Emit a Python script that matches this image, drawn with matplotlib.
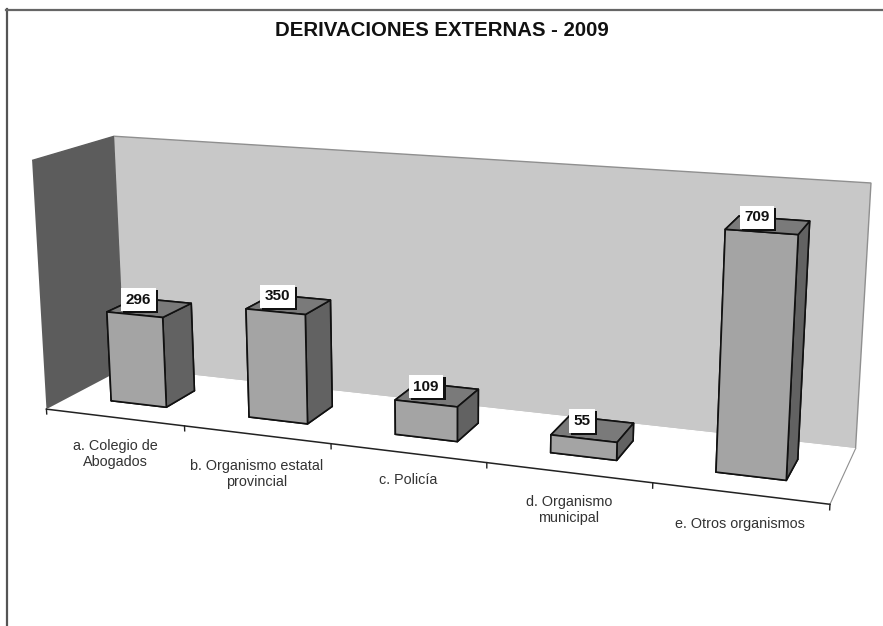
import matplotlib
matplotlib.use('Agg')
import numpy as np
import matplotlib.pyplot as plt
import matplotlib.patheffects as pe
from mpl_toolkits.mplot3d import proj3d

plt.rcParams['font.family'] = ['Liberation Sans', 'DejaVu Sans']

title = 'DERIVACIONES EXTERNAS - 2009'
categories = ['a. Colegio de\nAbogados', 'b. Organismo estatal\nprovincial', 'c. Policía',
              'd. Organismo\nmunicipal', 'e. Otros organismos']
values = [296, 350, 109, 55, 709]
z_max = 800

W, H = 883, 626

# category labels sit a bit irregular in the original, so place them in pixels
label_x = [115, 257, 408, 569, 740]
label_y = [454, 474, 480, 510, 524]

# bar footprint inside each category cell
bar_gap, bar_w, bar_y, bar_d = 0.3001, 0.4067, 0.3014, 0.3851

fig = plt.figure(figsize=(W / 100, H / 100), dpi=100, facecolor='white')

# 2d limits of a 3d axes are -0.095..0.09, so side = scale * 0.185
side = 848.87
ax = fig.add_axes([0.82 / W, -112.0 / H, side / W, side / H], projection='3d')
ax.patch.set_alpha(0)
ax.view_init(elev=14.367, azim=-69.513, roll=0.111)
ax.set_proj_type('persp', focal_length=0.3969)
ax.set_box_aspect((1, 0.2003, 0.3245))
ax.set_xlim(0, len(values), view_margin=0)
ax.set_ylim(0, 1, view_margin=0)
ax.set_zlim(0, z_max, view_margin=0)
ax.grid(False)
ax.set_xticks([])
ax.set_yticks([])
ax.set_zticks([])

ax.xaxis.set_pane_color('#5c5c5c')
ax.yaxis.set_pane_color('#c8c8c8')
ax.zaxis.set_pane_color('white')
ax.xaxis.pane.set_edgecolor('#5c5c5c')
ax.yaxis.pane.set_edgecolor('#8f8f8f')
ax.zaxis.pane.set_edgecolor('white')
ax.xaxis.line.set_color('#222222')
ax.xaxis.line.set_linewidth(1.1)
ax.yaxis.line.set_color('#8f8f8f')
ax.yaxis.line.set_linewidth(0.8)
ax.zaxis.line.set_color((0, 0, 0, 0))

# category ticks, straight down from the front floor edge
for i in range(len(values) + 1):
    ax.plot([i, i], [0, 0], [0, -16], color='#222222', lw=1.0)

M = ax.get_proj()
for i, v in enumerate(values):
    # bottom, top, front, back, left, right
    colors = ['#777777', '#7a7a7a', '#a4a4a4', '#666666', '#a4a4a4', '#626262']
    ax.bar3d(i + bar_gap, bar_y, 0, bar_w, bar_d, v, color=colors, edgecolor='#111111', linewidth=1.2, shade=False)

    # value box hangs off the middle of the bar top
    px, py, _ = proj3d.proj_transform(i + bar_gap + bar_w / 2, bar_y + bar_d / 2, v, M)
    t = ax.annotate(str(v), xy=(px, py), xytext=(-11, 8), textcoords='offset pixels', fontsize=11,
                    fontweight='bold', ha='center', va='center', color='#111111', zorder=100,
                    bbox=dict(boxstyle='square,pad=0.3', fc='white', ec='none'))
    t.get_bbox_patch().set_path_effects([pe.withSimplePatchShadow(offset=(1.5, -1.5), shadow_rgbFace='#111111', alpha=1)])

for name, lx, ly in zip(categories, label_x, label_y):
    fig.text(lx / W, 1 - ly / H, name, fontsize=10.4, color='#333333', ha='center', va='center', linespacing=1.22)

fig.text(442 / W, 1 - 30 / H, title, fontsize=14.7, fontweight='bold', color='#111111', ha='center', va='center')

# outer frame of the scanned page
fig.add_artist(plt.Line2D([6.5 / W, 6.5 / W], [0, 1 - 9 / H], color='#555555', lw=1.6))
fig.add_artist(plt.Line2D([6 / W, 1], [1 - 10 / H, 1 - 10 / H], color='#666666', lw=1.6))

fig.savefig('out.png', dpi=100)
